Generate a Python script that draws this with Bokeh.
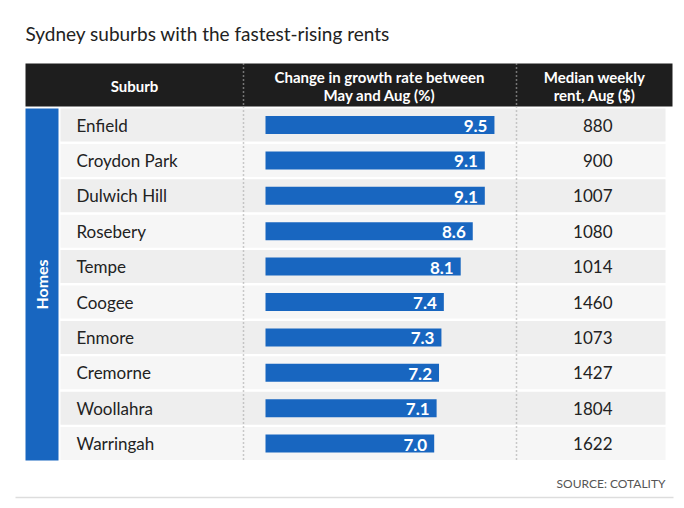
import math
from bokeh.plotting import figure
from bokeh.models import Range1d, ColumnDataSource
from bokeh.core.properties import value
from bokeh.embed import file_html
from bokeh.resources import INLINE

# ---- data ----
suburbs = ["Enfield", "Croydon Park", "Dulwich Hill", "Rosebery", "Tempe",
           "Coogee", "Enmore", "Cremorne", "Woollahra", "Warringah"]
growth_change = [9.5, 9.1, 9.1, 8.6, 8.1, 7.4, 7.3, 7.2, 7.1, 7.0]
median_rent = [880, 900, 1007, 1080, 1014, 1460, 1073, 1427, 1804, 1622]
group_label = "Homes"
title_text = "Sydney suburbs with the fastest-rising rents"
col_headers = ["Suburb", ["Change in growth rate between", "May and Aug (%)"],
               ["Median weekly", "rent, Aug ($)"]]
source_text = "SOURCE: COTALITY"

# ---- layout helpers (reference pixel -> data units) ----
PX0, PXU = 265.0, 24.1     # x pixel of 0 %, pixels per 1 %
ROW0, PITCH = 124.5, 35.4  # y pixel of first row centre, row pitch


def X(px):
    return (px - PX0) / PXU


def Y(py):
    return (py - ROW0) / PITCH


FONT = value("Lato")
BLUE = "#1866c0"

p = figure(width=676, height=500, output_backend="svg", toolbar_location=None,
           x_range=Range1d(X(0), X(676)), y_range=Range1d(Y(500), Y(0)),
           min_border=0, outline_line_color=None)
p.axis.visible = False
p.grid.visible = False
p.background_fill_color = "white"
p.border_fill_color = "white"

# title
p.text(x=[X(25)], y=[Y(33)], text=[title_text], text_font=FONT,
       text_font_size="19px", text_color="#222222", text_align="left",
       text_baseline="middle")

# header band
p.quad(left=[X(25)], right=[X(672)], top=[Y(63)], bottom=[Y(106)],
       fill_color="#1e1e1e", line_color=None)
hdr_kw = dict(text_font=FONT, text_font_size="15px", text_font_style="bold",
              text_color="white", text_align="center", text_baseline="middle")
p.text(x=[X(134)], y=[Y(85)], text=[col_headers[0]], **hdr_kw)
p.text(x=[X(379), X(379)], y=[Y(76), Y(94)], text=col_headers[1], **hdr_kw)
p.text(x=[X(594), X(594)], y=[Y(76), Y(94)], text=col_headers[2], **hdr_kw)

# row backgrounds
n = len(suburbs)
idx = list(range(n))
half = 16.5 / PITCH
row_src = ColumnDataSource(dict(
    top=[i - half for i in idx], bottom=[i + half for i in idx],
    color=["#eeeeee" if i % 2 == 0 else "#f6f6f6" for i in idx]))
p.quad(left=X(60), right=X(665), top="top", bottom="bottom",
       fill_color="color", line_color=None, source=row_src)

# group band
p.quad(left=[X(25)], right=[X(58)], top=[Y(108)], bottom=[Y(460)],
       fill_color=BLUE, line_color=None)
p.text(x=[X(41)], y=[Y(284)], text=[group_label], angle=math.pi / 2,
       text_font=FONT, text_font_size="16px", text_font_style="bold",
       text_color="white", text_align="center", text_baseline="middle")

# dotted separators
for sx in (X(243), X(516)):
    p.segment(x0=[sx], y0=[Y(63)], x1=[sx], y1=[Y(106)], line_color="#cccccc",
              line_width=1.5, line_dash="1 3")
    p.segment(x0=[sx], y0=[Y(106)], x1=[sx], y1=[Y(460)], line_color="#9a9a9a",
              line_width=1.5, line_dash="1 3")

src = ColumnDataSource(dict(
    y=idx, suburb=suburbs, growth=growth_change,
    glabel=[f"{v:.1f}" for v in growth_change],
    rent=[str(r) for r in median_rent]))

# bars
p.hbar(y="y", left=0, right="growth", height=18 / PITCH, fill_color=BLUE,
       line_color=None, source=src)
p.text(x="growth", y="y", text="glabel", x_offset=-7, y_offset=1, source=src,
       text_font=FONT, text_font_size="17px", text_font_style="bold",
       text_color="white", text_align="right", text_baseline="middle")

# suburb names
p.text(x=X(76), y="y", text="suburb", source=src, text_font=FONT,
       text_font_size="17px", text_color="#222222", text_align="left",
       text_baseline="middle")

# rents
p.text(x=X(612), y="y", text="rent", source=src, text_font=FONT,
       text_font_size="17px", text_color="#222222", text_align="right",
       text_baseline="middle")

# source
p.text(x=[X(665)], y=[Y(483)], text=[source_text], text_font=FONT,
       text_font_size="12px", text_color="#555555", text_align="right",
       text_baseline="middle")
p.segment(x0=[X(15)], y0=[Y(497)], x1=[X(673)], y1=[Y(497)],
          line_color="#dddddd", line_width=1.5)

open("out.html", "w").write(file_html(p, INLINE))
